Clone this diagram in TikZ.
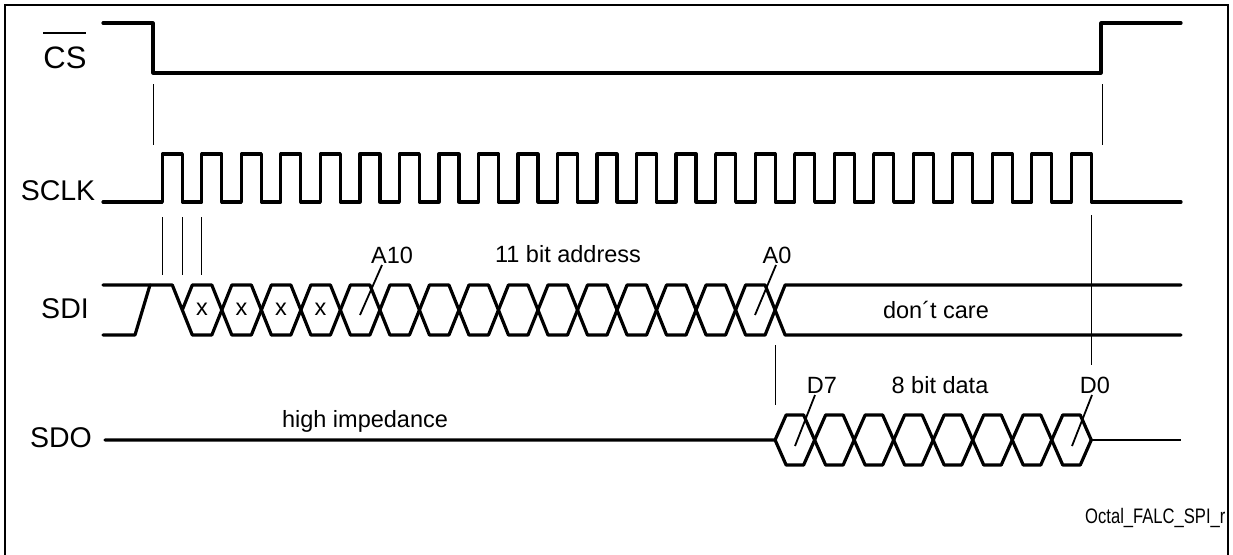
\documentclass[tikz,border=0pt]{standalone}
\usepackage{fontspec}
\setmainfont{Liberation Sans}
\newcommand\clkc[1]{182.3+39.52*(#1)}
\begin{document}
\begin{tikzpicture}[x=1pt,y=-1pt,
  wave/.style={line width=3.2pt,line join=round,line cap=round},
  guide/.style={line width=0.9pt},
  leader/.style={line width=1.8pt},
  sig/.style={inner sep=0pt,anchor=base,font=\fontsize{28.5}{30}\selectfont},
  lbl/.style={inner sep=0pt,anchor=base,font=\fontsize{23.5}{26}\selectfont}]
\useasboundingbox (0,0) rectangle (1233,554);
\fill[white] (0,0) rectangle (1233,554);
% frame
\draw[line width=2.4pt] (5,5) rectangle (1228,570);
% CS
\draw[wave] (103,23) -- (153,23) -- (153,73) -- (1101,73) -- (1101,23) -- (1181,23);
% SCLK
\draw[wave] (103,202) \foreach \k in {0,...,23} {
   -- ({\clkc{\k}-20},202) -- ({\clkc{\k}-20},154) -- ({\clkc{\k}},154) -- ({\clkc{\k}},202) } -- (1181,202);
% SDI
\draw[wave] (103,335) -- (135,335) -- (150,285);
\draw[wave] (103,285) -- ({\clkc{0}-10},285) -- ({\clkc{0}},310) -- ({\clkc{0}+10},285)
  \foreach \j in {0,...,6} { -- ({\clkc{2*\j+1}-10},285) -- ({\clkc{2*\j+1}+10},335) -- ({\clkc{2*\j+2}-10},335) -- ({\clkc{2*\j+2}+10},285) }
  -- ({\clkc{15}-10},285) -- ({\clkc{15}+10},335) -- (1181,335);
\draw[wave] ({\clkc{0}},310) -- ({\clkc{0}+10},335)
  \foreach \j in {0,...,6} { -- ({\clkc{2*\j+1}-10},335) -- ({\clkc{2*\j+1}+10},285) -- ({\clkc{2*\j+2}-10},285) -- ({\clkc{2*\j+2}+10},335) }
  -- ({\clkc{15}-10},335) -- ({\clkc{15}+10},285) -- (1181,285);
% SDO
\draw[wave] (105,440) -- ({\clkc{15}},440) -- ({\clkc{15}+11},415)
  \foreach \j in {0,...,2} { -- ({\clkc{16+2*\j}-11},415) -- ({\clkc{16+2*\j}+11},465) -- ({\clkc{17+2*\j}-11},465) -- ({\clkc{17+2*\j}+11},415) }
  -- ({\clkc{22}-11},415) -- ({\clkc{22}+11},465) -- ({\clkc{23}-11},465) -- ({\clkc{23}},440);
\draw[wave] ({\clkc{15}},440) -- ({\clkc{15}+11},465)
  \foreach \j in {0,...,2} { -- ({\clkc{16+2*\j}-11},465) -- ({\clkc{16+2*\j}+11},415) -- ({\clkc{17+2*\j}-11},415) -- ({\clkc{17+2*\j}+11},465) }
  -- ({\clkc{22}-11},465) -- ({\clkc{22}+11},415) -- ({\clkc{23}-11},415) -- ({\clkc{23}},440);
\draw[line width=2pt] ({\clkc{23}},440) -- (1181,440);
% guides
\draw[guide] (153,84) -- (153,145);
\draw[guide] (1102,84) -- (1102,145);
\foreach \gx in {162.3,182.3,201.8} \draw[guide] (\gx,217) -- (\gx,275);
\draw[guide] (775.5,345) -- (775.5,405);
\draw[guide] (1091.3,215) -- (1091.3,365);
% signal names
\node[sig,font=\fontsize{31}{33}\selectfont] (nCS) at (65,68) {CS};
\draw[line width=1.6pt] (43,33) -- (86,33);
\node[sig] (nSCLK) at (58,200) {SCLK};
\node[sig] (nSDI) at (65,318) {SDI};
\node[sig] (nSDO) at (61,447) {SDO};
% labels
\node[lbl] (nA10) at (392,263) {A10};
\node[lbl] (naddr) at (568,262) {11 bit address};
\node[lbl] (nA0) at (777,263) {A0};
\node[lbl] (ncare) at (936,318) {don´t care};
\node[lbl] (nD7) at (822,393) {D7};
\node[lbl] (ndata) at (940,393) {8 bit data};
\node[lbl] (nD0) at (1095,393) {D0};
\node[lbl] (nhi) at (365,427) {high impedance};
\foreach \k in {0,...,3} \node[lbl] (nx\k) at ({\clkc{\k}+19.76},315) {x};
% leaders
\coordinate (pA10) at (360,315); \coordinate (qA10) at (382,265);
\coordinate (pA0) at (755,315); \coordinate (qA0) at (776,265);
\coordinate (pD7) at (795,446); \coordinate (qD7) at (815,395);
\coordinate (pD0) at (1072,446); \coordinate (qD0) at (1092,395);
\draw[leader] (pA10) -- (qA10);
\draw[leader] (pA0) -- (qA0);
\draw[leader] (pD7) -- (qD7);
\draw[leader] (pD0) -- (qD0);
% footer
\begin{scope}
\clip (0,0) rectangle (1227,554);
\node[inner sep=0pt,anchor=base west,font=\fontsize{21}{24}\selectfont] (nfoot) at (1085,523) {\scalebox{0.79}[1]{Octal\_FALC\_SPI\_r}};
\end{scope}
\end{tikzpicture}
\end{document}
